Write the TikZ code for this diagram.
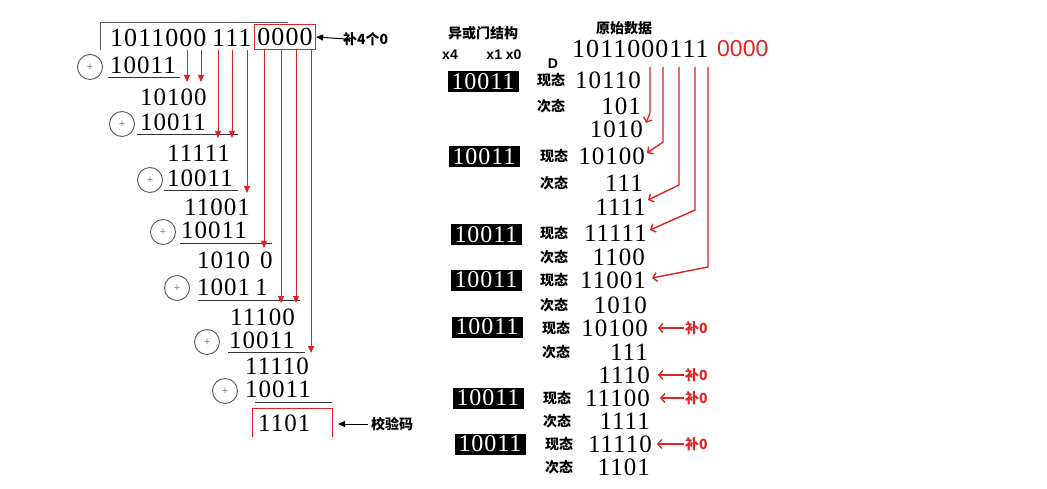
\documentclass[tikz,border=0pt]{standalone}
\usepackage{fontspec}
\setmainfont{Liberation Serif}
\newfontfamily\numf[LetterSpace=4]{Liberation Serif}
\newfontfamily\cjk{Noto Sans CJK SC}
\newfontfamily\arialf{Liberation Sans}
\usetikzlibrary{arrows.meta}
\definecolor{myred}{RGB}{222,36,36}
\begin{document}
\begin{tikzpicture}[x=1pt,y=-1pt,
  num/.style={inner sep=0pt, anchor=west, font=\numf\fontsize{25}{25}\selectfont},
  bignum/.style={inner sep=0pt, anchor=west, font=\numf\fontsize{26}{26}\selectfont},
  numr/.style={inner sep=0pt, anchor=east, font=\numf\fontsize{25}{25}\selectfont},
  lab/.style={inner sep=0pt, font=\cjk\bfseries\fontsize{14}{14}\selectfont},
  xlab/.style={inner sep=0pt, font=\arialf\bfseries\fontsize{14}{14}\selectfont},
  blk/.style={fill=black, text=white, minimum width=71pt, minimum height=21pt, inner sep=0pt, font=\numf\fontsize{24}{24}\selectfont},
  opl/.style={circle, draw=gray!70!black, line width=0.9pt, minimum size=25pt, inner sep=0pt, font=\arialf\fontsize{11}{11}\selectfont, text=gray},
  uline/.style={draw=gray!40!black, line width=1pt},
  rtri/.style={draw=myred, line width=0.9pt, -{Triangle[length=7pt,width=6pt]}},
  rbarb/.style={draw=myred, line width=1.4pt, -{Straight Barb[length=4pt,width=9pt]}},
  karr/.style={draw=black, line width=1pt, -{Triangle[length=7pt,width=6pt]}}]
\useasboundingbox (0,0) rectangle (1047,489);
\fill[white] (0,0) rectangle (1047,489);

% ---------------- left: long division ----------------
\draw[draw=gray!70!black, line width=0.9pt] (100,50) |- (288,22);
\node[bignum] (d1) at (110,38) {1011000};
\node[bignum] (d2) at (212,38) {111};
\node[bignum, draw=myred, line width=0.9pt, inner xsep=3pt, inner ysep=4pt] (pad) at (254,37) {0000};
\node[lab, anchor=west] (pad4) at (343,39) {补4个0};
\draw[karr] ([xshift=3pt]pad4.west) -- (pad.east);

\node[opl] (c1) at (90,67) {+};
\node[num] (s1) at (110,65) {10011};
\draw[uline] (108,78) -- (180,78);
\node[num] (r1) at (140,97) {10100};

\node[opl] (c2) at (122,124) {+};
\node[num] (s2) at (140,122) {10011};
\draw[uline] (137,135) -- (238,135);
\node[num] (r2) at (167,153) {11111};

\node[opl] (c3) at (150,180) {+};
\node[num] (s3) at (167,178) {10011};
\draw[uline] (164,191) -- (238,191);
\node[num] (r3) at (184,207) {11001};

\node[opl] (c4) at (163,232) {+};
\node[num] (s4) at (181,230) {10011};
\draw[uline] (180,244) -- (272,244);
\node[num] (r4a) at (197,260) {1010};
\node[num] (r4b) at (260,260) {0};

\node[opl] (c5) at (177,288) {+};
\node[num] (s5a) at (197,287) {1001};
\node[num] (s5b) at (255,287) {1};
\draw[uline] (198,300) -- (300,300);
\node[num] (r5) at (230,317) {11100};

\node[opl] (c6) at (207,342) {+};
\node[num] (s6) at (229,340) {10011};
\draw[uline] (228,352) -- (305,352);
\node[num] (r6) at (245,366) {11110};

\node[opl] (c7) at (225,391) {+};
\node[num] (s7) at (245,389) {10011};
\draw[uline] (255,402) -- (332,402);

\node[num] (chk) at (258,423) {1101};
\draw[draw=myred, line width=1pt] (252,437) |- (332,408) -- (332,437);
\node[lab, anchor=west] (jy) at (371,424) {校验码};
\coordinate (chkR) at (338,424);
\draw[karr] ([xshift=-3pt]jy.west) -- (chkR);

\foreach \i/\x/\ys/\ye in {1/187/50/82, 2/201/50/82, 3/218/50/138, 4/232/50/138,
  5/247/50/193, 6/264/49/248, 7/281/49/303, 8/296/49/303, 9/311/49/353}{
  \coordinate (ls\i) at (\x,\ys);
  \coordinate (le\i) at (\x,\ye);
  \draw[rtri] (ls\i) -- (le\i);
}

% ---------------- right: shift register ----------------
\node[lab] (hx) at (483,33) {异或门结构};
\node[xlab] (x4) at (450,55) {x4};
\node[xlab] (x10) at (504,55) {x1 x0};
\node[xlab] (dd) at (553,64) {D};
\node[lab] (hy) at (624,28) {原始数据};
\node[bignum] (rd) at (572,49) {1011000111};
\node[inner sep=0pt, anchor=west, text=myred, font=\arialf\fontsize{23}{23}\selectfont] (rz) at (717,49) {0000};

\foreach \i/\x/\y in {1/483/82, 2/484/157, 3/486/235, 4/486/280, 5/487/327, 6/488/398, 7/490/444}{
  \node[blk] (g\i) at (\x,\y) {10011};
}

\foreach \i/\t/\lx/\y/\ex/\n in {1/现态/551/80/641/10110, 2/次态/551/106/641/101,
  4/现态/554/156/645/10100, 5/次态/554/183/643/111, 7/现态/554/233/647/11111,
  8/次态/554/257/645/1100, 9/现态/554/280/646/11001, 10/次态/554/305/647/1010,
  11/现态/556/328/648/10100, 12/次态/556/352/648/111, 14/现态/557/398/650/11100,
  15/次态/557/421/650/1111, 16/现态/559/444/652/11110, 17/次态/559/467/650/1101}{
  \node[lab] (t\i) at (\lx,\y) {\t};
  \node[numr] (n\i) at (\ex,\y) {\n};
}
\node[numr] (n3) at (643,129) {1010};
\node[numr] (n6) at (646,207) {1111};
\node[numr] (n13) at (650,375) {1110};

\foreach \i/\x/\yb/\tx/\ty in {1/650/113/646/123, 2/663/142/647/153, 3/679/185/648/200,
  4/695/210/650/230, 5/708/267/652/278}{
  \coordinate (rs\i) at (\x,67);
  \coordinate (rb\i) at (\x,\yb);
  \coordinate (rt\i) at (\tx,\ty);
  \draw[rbarb] (rs\i) -- (rb\i) -- (rt\i);
}

\foreach \i/\y/\t in {1/328/658, 2/375/658, 3/398/660, 4/444/657}{
  \node[lab, text=myred, anchor=west] (b\i) at (685,\y) {补0};
  \coordinate (bt\i) at (\t,\y);
  \draw[rbarb] ([xshift=-1pt]b\i.west) -- (bt\i);
}
\end{tikzpicture}
\end{document}
